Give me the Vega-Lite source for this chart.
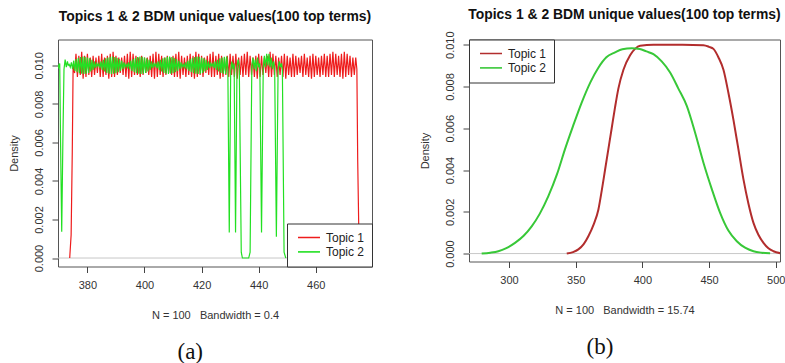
{
  "$schema": "https://vega.github.io/schema/vega-lite/v6.json",
  "background": "white",
  "padding": {"left": 7, "top": 7.5, "right": 0, "bottom": 0},
  "datasets": {
    "a1": [{"x":373.8,"y":0},{"x":374.3,"y":0.0012},{"x":374.7,"y":0.0055},{"x":375.0,"y":0.01},{"x":375.5,"y":0.0096},
{"x":376,"y":0.0106},{"x":376.5,"y":0.0094},{"x":377,"y":0.0105},{"x":377.5,"y":0.0095},{"x":378,"y":0.0107},{"x":378.5,"y":0.0093},{"x":379,"y":0.0105},{"x":379.5,"y":0.0094},{"x":380,"y":0.0106},{"x":380.5,"y":0.0095},{"x":381,"y":0.0104},{"x":381.5,"y":0.0094},{"x":382,"y":0.0105},{"x":382.5,"y":0.0095},{"x":383,"y":0.0104},{"x":383.5,"y":0.0096},{"x":384,"y":0.0105},{"x":384.5,"y":0.0094},{"x":385,"y":0.0106},{"x":385.5,"y":0.0094},{"x":386,"y":0.0104},{"x":386.5,"y":0.0095},{"x":387,"y":0.0105},{"x":387.5,"y":0.0093},{"x":388,"y":0.0106},{"x":388.5,"y":0.0094},{"x":389,"y":0.0107},{"x":389.5,"y":0.0094},{"x":390,"y":0.0105},{"x":390.5,"y":0.0095},{"x":391,"y":0.0104},{"x":391.5,"y":0.0096},{"x":392,"y":0.0104},{"x":392.5,"y":0.0095},{"x":393,"y":0.0105},{"x":393.5,"y":0.0094},{"x":394,"y":0.0106},{"x":394.5,"y":0.0093},{"x":395,"y":0.0107},{"x":395.5,"y":0.0094},{"x":396,"y":0.0106},{"x":396.5,"y":0.0095},{"x":397,"y":0.0105},{"x":397.5,"y":0.0095},{"x":398,"y":0.0104},{"x":398.5,"y":0.0094},{"x":399,"y":0.0105},{"x":399.5,"y":0.0095},{"x":400,"y":0.0104},{"x":400.5,"y":0.0096},{"x":401,"y":0.0104},{"x":401.5,"y":0.0095},{"x":402,"y":0.0105},{"x":402.5,"y":0.0094},{"x":403,"y":0.0106},{"x":403.5,"y":0.0093},{"x":404,"y":0.0107},{"x":404.5,"y":0.0094},{"x":405,"y":0.0106},{"x":405.5,"y":0.0095},{"x":406,"y":0.0105},{"x":406.5,"y":0.0094},{"x":407,"y":0.0104},{"x":407.5,"y":0.0095},{"x":408,"y":0.0105},{"x":408.5,"y":0.0096},{"x":409,"y":0.0104},{"x":409.5,"y":0.0095},{"x":410,"y":0.0105},{"x":410.5,"y":0.0094},{"x":411,"y":0.0106},{"x":411.5,"y":0.0094},{"x":412,"y":0.0107},{"x":412.5,"y":0.0093},{"x":413,"y":0.0105},{"x":413.5,"y":0.0095},{"x":414,"y":0.0104},{"x":414.5,"y":0.0094},{"x":415,"y":0.0105},{"x":415.5,"y":0.0095},{"x":416,"y":0.0106},{"x":416.5,"y":0.0094},{"x":417,"y":0.0105},{"x":417.5,"y":0.0093},{"x":418,"y":0.0107},{"x":418.5,"y":0.0094},{"x":419,"y":0.0106},{"x":419.5,"y":0.0095},{"x":420,"y":0.0105},{"x":420.5,"y":0.0094},{"x":421,"y":0.0104},{"x":421.5,"y":0.0096},{"x":422,"y":0.0105},{"x":422.5,"y":0.0095},{"x":423,"y":0.0106},{"x":423.5,"y":0.0094},{"x":424,"y":0.0107},{"x":424.5,"y":0.0094},{"x":425,"y":0.0105},{"x":425.5,"y":0.0095},{"x":426,"y":0.0106},{"x":426.5,"y":0.0093},{"x":427,"y":0.0105},{"x":427.5,"y":0.0094},{"x":428,"y":0.0104},{"x":428.5,"y":0.0095},{"x":429,"y":0.0105},{"x":429.5,"y":0.0094},{"x":430,"y":0.0106},{"x":430.5,"y":0.0095},{"x":431,"y":0.0105},{"x":431.5,"y":0.0094},{"x":432,"y":0.0106},{"x":432.5,"y":0.0093},{"x":433,"y":0.0104},{"x":433.5,"y":0.0095},{"x":434,"y":0.0105},{"x":434.5,"y":0.0094},{"x":435,"y":0.0106},{"x":435.5,"y":0.0095},{"x":436,"y":0.0107},{"x":436.5,"y":0.0094},{"x":437,"y":0.0105},{"x":437.5,"y":0.0095},{"x":438,"y":0.0104},{"x":438.5,"y":0.0094},{"x":439,"y":0.0105},{"x":439.5,"y":0.0093},{"x":440,"y":0.0106},{"x":440.5,"y":0.0094},{"x":441,"y":0.0105},{"x":441.5,"y":0.0095},{"x":442,"y":0.0104},{"x":442.5,"y":0.0096},{"x":443,"y":0.0105},{"x":443.5,"y":0.0094},{"x":444,"y":0.0107},{"x":444.5,"y":0.0094},{"x":445,"y":0.0106},{"x":445.5,"y":0.0095},{"x":446,"y":0.0105},{"x":446.5,"y":0.0094},{"x":447,"y":0.0104},{"x":447.5,"y":0.0095},{"x":448,"y":0.0105},{"x":448.5,"y":0.0094},{"x":449,"y":0.0106},{"x":449.5,"y":0.0093},{"x":450,"y":0.0105},{"x":450.5,"y":0.0095},{"x":451,"y":0.0104},{"x":451.5,"y":0.0094},{"x":452,"y":0.0106},{"x":452.5,"y":0.0094},{"x":453,"y":0.0105},{"x":453.5,"y":0.0095},{"x":454,"y":0.0104},{"x":454.5,"y":0.0096},{"x":455,"y":0.0105},{"x":455.5,"y":0.0094},{"x":456,"y":0.0106},{"x":456.5,"y":0.0095},{"x":457,"y":0.0104},{"x":457.5,"y":0.0094},{"x":458,"y":0.0105},{"x":458.5,"y":0.0093},{"x":459,"y":0.0106},{"x":459.5,"y":0.0094},{"x":460,"y":0.0105},{"x":460.5,"y":0.0095},{"x":461,"y":0.0104},{"x":461.5,"y":0.0094},{"x":462,"y":0.0105},{"x":462.5,"y":0.0095},{"x":463,"y":0.0106},{"x":463.5,"y":0.0094},{"x":464,"y":0.0105},{"x":464.5,"y":0.0094},{"x":465,"y":0.0106},{"x":465.5,"y":0.0095},{"x":466,"y":0.0107},{"x":466.5,"y":0.0094},{"x":467,"y":0.0106},{"x":467.5,"y":0.0095},{"x":468,"y":0.0105},{"x":468.5,"y":0.0094},{"x":469,"y":0.0106},{"x":469.5,"y":0.0093},{"x":470,"y":0.0107},{"x":470.5,"y":0.0094},{"x":471,"y":0.0106},{"x":471.5,"y":0.0095},{"x":472,"y":0.0105},{"x":472.5,"y":0.0094},{"x":473,"y":0.0104},{"x":473.5,"y":0.0095},{"x":474,"y":0.0104},{"x":474.4,"y":0.0098},{"x":474.7,"y":0.005},{"x":475.1,"y":0.0012},{"x":475.6,"y":0}],
    "a2": [{"x":369.5,"y":0.0101},{"x":369.9,"y":0.0099},{"x":370.3,"y":0.0101},{"x":370.6,"y":0.006},{"x":371.0,"y":0.00137},{"x":371.4,"y":0.006},{"x":371.8,"y":0.0098},{"x":372.2,"y":0.0103},{"x":372.6,"y":0.0099},{"x":373.0,"y":0.0102},{"x":373.3,"y":0.01},
{"x":373.6,"y":0.01005},{"x":374.0,"y":0.0099},{"x":374.4,"y":0.01015},{"x":374.8,"y":0.0098},{"x":375.2,"y":0.01024},{"x":375.6,"y":0.00971},{"x":376.0,"y":0.01032},{"x":376.4,"y":0.00964},{"x":376.8,"y":0.01039},{"x":377.2,"y":0.00959},{"x":377.6,"y":0.01043},{"x":378.0,"y":0.00956},{"x":378.4,"y":0.01045},{"x":378.8,"y":0.00955},{"x":379.2,"y":0.01044},{"x":379.6,"y":0.00957},{"x":380.0,"y":0.01041},{"x":380.4,"y":0.00961},{"x":380.8,"y":0.01036},{"x":381.2,"y":0.00968},{"x":381.6,"y":0.01029},{"x":382.0,"y":0.00976},{"x":382.4,"y":0.0102},{"x":382.8,"y":0.00985},{"x":383.2,"y":0.0101},
{"x":383.6,"y":0.00995},{"x":384.0,"y":0.0101},{"x":384.4,"y":0.00985},{"x":384.8,"y":0.0102},{"x":385.2,"y":0.00976},{"x":385.6,"y":0.01029},{"x":386.0,"y":0.00968},{"x":386.4,"y":0.01036},{"x":386.8,"y":0.00961},{"x":387.2,"y":0.01041},{"x":387.6,"y":0.00957},{"x":388.0,"y":0.01044},{"x":388.4,"y":0.00955},{"x":388.8,"y":0.01045},{"x":389.2,"y":0.00956},{"x":389.6,"y":0.01043},{"x":390.0,"y":0.00959},{"x":390.4,"y":0.01039},{"x":390.8,"y":0.00964},{"x":391.2,"y":0.01032},{"x":391.6,"y":0.00971},{"x":392.0,"y":0.01024},{"x":392.4,"y":0.0098},{"x":392.8,"y":0.01015},{"x":393.2,"y":0.0099},
{"x":393.6,"y":0.01005},{"x":394.0,"y":0.0099},{"x":394.4,"y":0.01015},{"x":394.8,"y":0.0098},{"x":395.2,"y":0.01024},{"x":395.6,"y":0.00971},{"x":396.0,"y":0.01032},{"x":396.4,"y":0.00964},{"x":396.8,"y":0.01039},{"x":397.2,"y":0.00959},{"x":397.6,"y":0.01043},{"x":398.0,"y":0.00956},{"x":398.4,"y":0.01045},{"x":398.8,"y":0.00955},{"x":399.2,"y":0.01044},{"x":399.6,"y":0.00957},{"x":400.0,"y":0.01041},{"x":400.4,"y":0.00961},{"x":400.8,"y":0.01036},{"x":401.2,"y":0.00968},{"x":401.6,"y":0.01029},{"x":402.0,"y":0.00976},{"x":402.4,"y":0.0102},{"x":402.8,"y":0.00985},{"x":403.2,"y":0.0101},
{"x":403.6,"y":0.00995},{"x":404.0,"y":0.0101},{"x":404.4,"y":0.00985},{"x":404.8,"y":0.0102},{"x":405.2,"y":0.00976},{"x":405.6,"y":0.01029},{"x":406.0,"y":0.00968},{"x":406.4,"y":0.01036},{"x":406.8,"y":0.00961},{"x":407.2,"y":0.01041},{"x":407.6,"y":0.00957},{"x":408.0,"y":0.01044},{"x":408.4,"y":0.00955},{"x":408.8,"y":0.01045},{"x":409.2,"y":0.00956},{"x":409.6,"y":0.01043},{"x":410.0,"y":0.00959},{"x":410.4,"y":0.01039},{"x":410.8,"y":0.00964},{"x":411.2,"y":0.01032},{"x":411.6,"y":0.00971},{"x":412.0,"y":0.01024},{"x":412.4,"y":0.0098},{"x":412.8,"y":0.01015},{"x":413.2,"y":0.0099},
{"x":413.6,"y":0.01005},{"x":414.0,"y":0.0099},{"x":414.4,"y":0.01015},{"x":414.8,"y":0.0098},{"x":415.2,"y":0.01024},{"x":415.6,"y":0.00971},{"x":416.0,"y":0.01032},{"x":416.4,"y":0.00964},{"x":416.8,"y":0.01039},{"x":417.2,"y":0.00959},{"x":417.6,"y":0.01043},{"x":418.0,"y":0.00956},{"x":418.4,"y":0.01045},{"x":418.8,"y":0.00955},{"x":419.2,"y":0.01044},{"x":419.6,"y":0.00957},{"x":420.0,"y":0.01041},{"x":420.4,"y":0.00961},{"x":420.8,"y":0.01036},{"x":421.2,"y":0.00968},{"x":421.6,"y":0.01029},{"x":422.0,"y":0.00976},{"x":422.4,"y":0.0102},{"x":422.8,"y":0.00985},{"x":423.2,"y":0.0101},
{"x":423.6,"y":0.00995},{"x":424.0,"y":0.0101},{"x":424.4,"y":0.00985},{"x":424.8,"y":0.0102},{"x":425.2,"y":0.00976},{"x":425.6,"y":0.01029},{"x":426.0,"y":0.00968},{"x":426.4,"y":0.01036},{"x":426.8,"y":0.00961},{"x":427.2,"y":0.01041},{"x":427.6,"y":0.00957},{"x":428.0,"y":0.01044},{"x":428.4,"y":0.00955},{"x":428.8,"y":0.01045},
{"x":429.2,"y":0.0098},{"x":429.7,"y":0.00132},{"x":430.2,"y":0.0097},{"x":430.6,"y":0.0102},{"x":431.0,"y":0.0098},{"x":431.4,"y":0.0101},{"x":431.9,"y":0.00132},{"x":432.4,"y":0.0099},{"x":432.8,"y":0.0103},{"x":433.2,"y":0.01},{"x":433.9,"y":0.0003},{"x":434.3,"y":0},{"x":436.5,"y":0},{"x":437.0,"y":0.0003},{"x":437.6,"y":0.01},{"x":438.0,"y":0.0104},{"x":438.4,"y":0.0098},{"x":438.8,"y":0.0103},{"x":439.2,"y":0.0097},{"x":439.6,"y":0.0104},{"x":440.0,"y":0.0099},{"x":440.4,"y":0.0101},{"x":441.0,"y":0.00132},{"x":441.6,"y":0.0099},{"x":442.0,"y":0.0105},{"x":442.4,"y":0.0099},{"x":442.8,"y":0.0106},{"x":443.2,"y":0.01},{"x":443.6,"y":0.0106},{"x":444.0,"y":0.0099},{"x":444.4,"y":0.0104},{"x":444.8,"y":0.0098},{"x":445.2,"y":0.0102},{"x":445.6,"y":0.0099},{"x":446.2,"y":0.0011},{"x":446.8,"y":0.0098},{"x":447.2,"y":0.0102},{"x":447.6,"y":0.0099},{"x":448.0,"y":0.0101},{"x":448.3,"y":0.0098},{"x":448.9,"y":0.0003},{"x":449.5,"y":0}],
    "b1": [{"x":343.3,"y":0},{"x":348,"y":0.00007},{"x":352,"y":0.0002},{"x":356,"y":0.00045},{"x":359.5,"y":0.00083},{"x":363.5,"y":0.0014},{"x":367,"y":0.0021},{"x":369.5,"y":0.003},{"x":372,"y":0.004},{"x":374.5,"y":0.005},{"x":377,"y":0.006},{"x":379.5,"y":0.007},{"x":382,"y":0.0079},{"x":385.8,"y":0.0088},{"x":390.8,"y":0.0095},{"x":394.5,"y":0.0098},{"x":398.3,"y":0.00995},{"x":408.3,"y":0.01},{"x":430,"y":0.01},{"x":445.8,"y":0.00998},{"x":450,"y":0.0099},{"x":453.3,"y":0.0098},{"x":457,"y":0.0094},{"x":460.8,"y":0.0088},{"x":464.5,"y":0.0077},{"x":468.3,"y":0.0064},{"x":472,"y":0.005},{"x":475.8,"y":0.00355},{"x":479.5,"y":0.0024},{"x":483.3,"y":0.00147},{"x":487,"y":0.0009},{"x":490.8,"y":0.00051},{"x":494.5,"y":0.00025},{"x":498.3,"y":0.00011},{"x":503.3,"y":0.00002}],
    "b2": [{"x":279.5,"y":0},{"x":286,"y":0.00004},{"x":292,"y":0.00011},{"x":298,"y":0.00026},{"x":304.5,"y":0.00051},{"x":311,"y":0.00085},{"x":317,"y":0.0013},{"x":323,"y":0.0019},{"x":329.5,"y":0.00275},{"x":336,"y":0.0038},{"x":342,"y":0.005},{"x":348,"y":0.0061},{"x":354.5,"y":0.00723},{"x":361,"y":0.0082},{"x":367,"y":0.0089},{"x":373,"y":0.0094},{"x":379.5,"y":0.00963},{"x":385,"y":0.00978},{"x":392,"y":0.00983},{"x":398,"y":0.0098},{"x":403,"y":0.00968},{"x":408.3,"y":0.00955},{"x":414.5,"y":0.0092},{"x":420.8,"y":0.00867},{"x":427,"y":0.0079},{"x":433.3,"y":0.00707},{"x":439.5,"y":0.0058},{"x":445.8,"y":0.00435},{"x":452,"y":0.0031},{"x":458.3,"y":0.00195},{"x":464.5,"y":0.0011},{"x":470.8,"y":0.00059},{"x":477,"y":0.00028},{"x":483.3,"y":0.00011},{"x":489.5,"y":0.00004},{"x":495.8,"y":0.00001}]
  },
  "config": {
    "font": "Liberation Sans",
    "view": {"stroke": "#555", "strokeWidth": 1},
    "axis": {"grid": false, "domain": false, "tickColor": "#444", "tickSize": 6, "labelFontSize": 11, "labelColor": "#333", "titleFontSize": 11, "titleFontWeight": "normal", "titleColor": "#333", "labelFont": "Liberation Sans", "titleFont": "Liberation Sans", "labelFlush": false},
    "legend": {"labelFont": "Liberation Sans", "labelFontSize": 12, "labelColor": "#222", "symbolType": "stroke", "symbolSize": 484, "symbolStrokeWidth": 1.6, "padding": 7, "strokeColor": "#333", "fillColor": "white", "offset": 0, "rowPadding": 0.4, "clipHeight": 14, "symbolOffset": 3, "labelOffset": 5}
  },
  "spacing": 45,
  "resolve": {"scale": {"color": "independent", "x": "independent", "y": "independent"}, "legend": {"color": "independent"}},
  "hconcat": [
    {
      "title": {"text": "(a)", "orient": "bottom", "font": "Liberation Serif", "fontSize": 23, "fontWeight": "normal", "color": "#111", "anchor": "middle", "offset": 20, "dx": 0},
      "resolve": {"scale": {"color": "independent"}, "legend": {"color": "independent"}},
      "vconcat": [
        {
          "width": 314, "height": 227,
          "title": {"text": "Topics 1 & 2 BDM unique values(100 top terms)", "font": "Liberation Sans", "fontSize": 13.9, "fontWeight": "bold", "color": "#111", "anchor": "middle", "frame": "group", "baseline": "alphabetic", "offset": 5},
          "encoding": {
            "x": {"field": "x", "type": "quantitative", "scale": {"domain": [369.7, 479.7], "nice": false, "zero": false}, "axis": {"values": [380, 400, 420, 440, 460], "title": "N = 100\u00a0\u00a0 Bandwidth = 0.4", "labelPadding": 7, "titlePadding": 19}},
            "y": {"field": "y", "type": "quantitative", "scale": {"domain": [-0.00044, 0.01134], "nice": false, "zero": false}, "axis": {"values": [0, 0.002, 0.004, 0.006, 0.008, 0.01], "format": ".3f", "labelAngle": -90, "title": "Density", "labelPadding": 8, "titlePadding": 14}}
          },
          "layer": [
            {"data": {"values": [{"x": 369.7, "y": 0}, {"x": 479.7, "y": 0}]}, "mark": {"type": "line", "color": "#c8c8c8", "strokeWidth": 1, "clip": true}},
            {"data": {"name": "a1"}, "mark": {"type": "line", "clip": true, "strokeWidth": 1.2},
             "encoding": {"color": {"datum": "Topic 1", "type": "nominal", "scale": {"domain": ["Topic 1", "Topic 2"], "range": ["#ee1c1c", "#22e022"]}, "legend": {"title": null, "orient": "bottom-right"}}}},
            {"data": {"name": "a2"}, "mark": {"type": "line", "clip": true, "strokeWidth": 1.2},
             "encoding": {"color": {"datum": "Topic 2", "type": "nominal"}}}
          ]
        }
      ]
    },
    {
      "title": {"text": "(b)", "orient": "bottom", "font": "Liberation Serif", "fontSize": 23, "fontWeight": "normal", "color": "#111", "anchor": "middle", "offset": 20, "dx": -2},
      "resolve": {"scale": {"color": "independent"}, "legend": {"color": "independent"}},
      "vconcat": [
        {
          "width": 311, "height": 222,
          "title": {"text": "Topics 1 & 2 BDM unique values(100 top terms)", "font": "Liberation Sans", "fontSize": 13.9, "fontWeight": "bold", "color": "#111", "anchor": "middle", "frame": "group", "baseline": "alphabetic", "offset": -2},
          "encoding": {
            "x": {"field": "x", "type": "quantitative", "scale": {"domain": [270, 503.2], "nice": false, "zero": false}, "axis": {"values": [300, 350, 400, 450, 500], "title": "N = 100\u00a0\u00a0 Bandwidth = 15.74", "labelPadding": 7, "titlePadding": 19}},
            "y": {"field": "y", "type": "quantitative", "scale": {"domain": [-0.00038, 0.01025], "nice": false, "zero": false}, "axis": {"values": [0, 0.002, 0.004, 0.006, 0.008, 0.01], "format": ".3f", "labelAngle": -90, "title": "Density", "labelPadding": 8, "titlePadding": 14}}
          },
          "layer": [
            {"data": {"values": [{"x": 270, "y": 0}, {"x": 503.2, "y": 0}]}, "mark": {"type": "line", "color": "#c8c8c8", "strokeWidth": 1, "clip": true}},
            {"data": {"name": "b1"}, "mark": {"type": "line", "clip": true, "strokeWidth": 2, "interpolate": "monotone"},
             "encoding": {"color": {"datum": "Topic 1", "type": "nominal", "scale": {"domain": ["Topic 1", "Topic 2"], "range": ["#b22d2d", "#38c838"]}, "legend": {"title": null, "orient": "top-left"}}}},
            {"data": {"name": "b2"}, "mark": {"type": "line", "clip": true, "strokeWidth": 2, "interpolate": "monotone"},
             "encoding": {"color": {"datum": "Topic 2", "type": "nominal"}}}
          ]
        }
      ]
    }
  ]
}
